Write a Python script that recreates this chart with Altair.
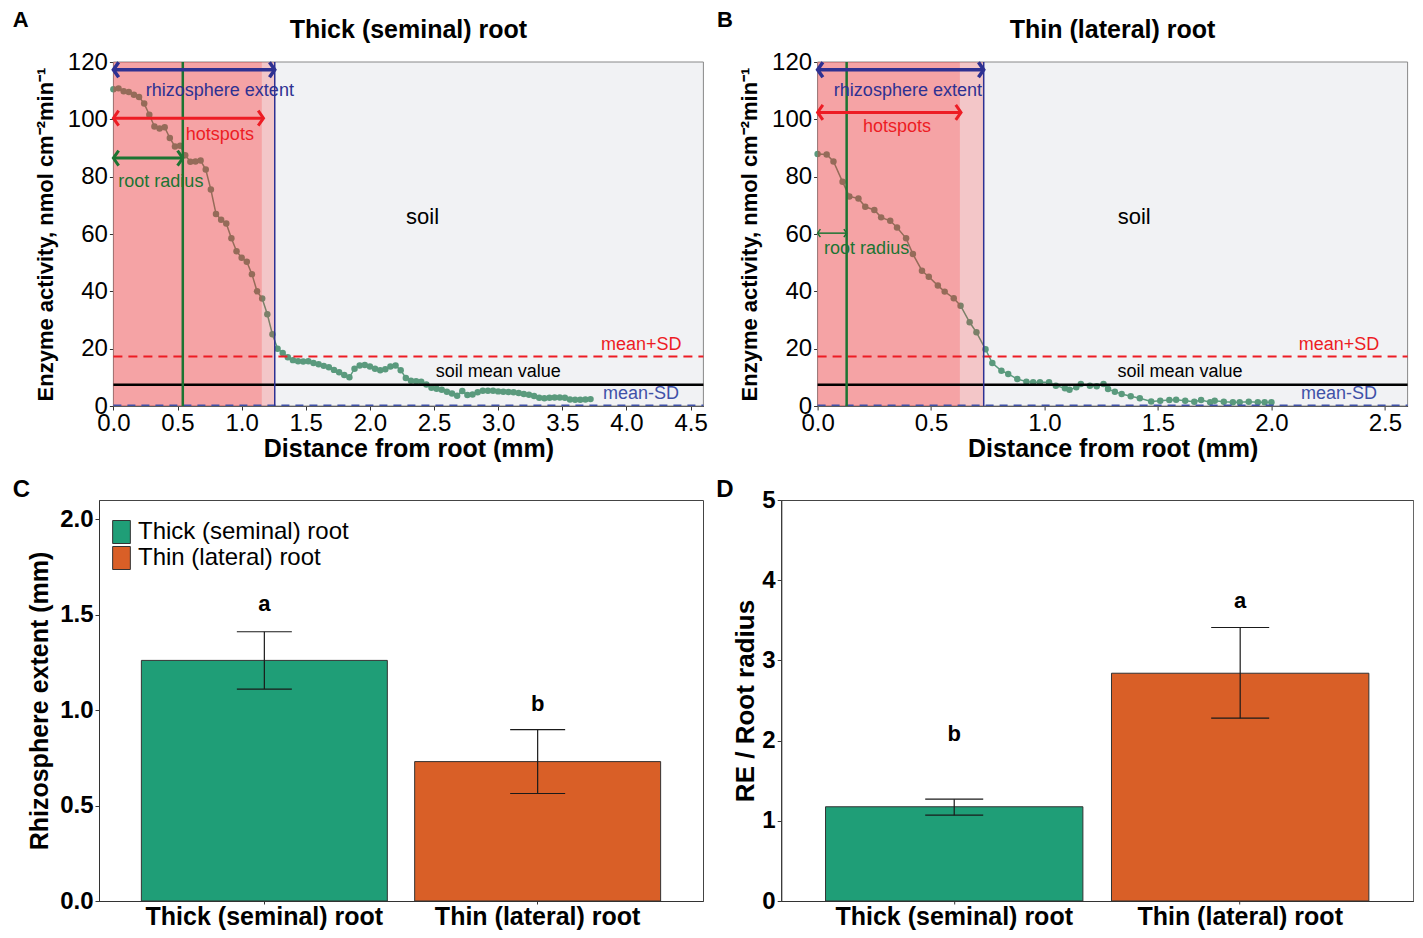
import altair as alt
import pandas as pd

FONT = "Liberation Sans, Arial, Helvetica, sans-serif"

# ---------------- data ----------------
thick_distance = [0.00, 0.04, 0.08, 0.12, 0.16, 0.20, 0.24, 0.28, 0.32, 0.36,
                  0.40, 0.44, 0.48, 0.52, 0.56, 0.60, 0.64, 0.68, 0.72, 0.76,
                  0.80, 0.84, 0.88, 0.92, 0.96, 1.00, 1.04, 1.08, 1.12, 1.16,
                  1.20, 1.24, 1.28, 1.32, 1.36, 1.40, 1.44, 1.48, 1.52, 1.56,
                  1.60, 1.64, 1.68, 1.72, 1.76, 1.80, 1.84, 1.88, 1.92, 1.96,
                  2.00, 2.04, 2.08, 2.12, 2.16, 2.20, 2.24, 2.28, 2.32, 2.36,
                  2.40, 2.44, 2.48, 2.52, 2.56, 2.60, 2.64, 2.68, 2.72, 2.76,
                  2.80, 2.84, 2.88, 2.92, 2.96, 3.00, 3.04, 3.08, 3.12, 3.16,
                  3.20, 3.24, 3.28, 3.32, 3.36, 3.40, 3.44, 3.48, 3.52, 3.56,
                  3.60, 3.64, 3.68, 3.72]
thick_activity = [110.5, 110.8, 109.8, 109.5, 108.6, 107.8, 105.5, 101.6, 97.5, 96.8,
                  97.2, 93.5, 90.5, 90.8, 87.5, 85.2, 85.3, 85.6, 82.5, 75.5,
                  67.0, 65.0, 63.7, 58.5, 54.0, 51.7, 50.3, 46.0, 40.0, 37.5,
                  32.0, 25.0, 20.0, 18.5, 17.0, 16.0, 15.6, 15.5, 15.6, 15.0,
                  14.6, 14.0, 13.5, 12.6, 11.8, 10.8, 10.0, 13.0, 14.1, 14.3,
                  13.8, 13.0, 12.5, 12.8, 13.8, 14.1, 12.5, 9.8, 8.8, 8.6,
                  8.5, 7.5, 6.4, 6.0, 5.7, 5.0, 4.4, 3.6, 5.2, 3.8,
                  4.0, 4.8, 5.3, 5.3, 5.3, 5.1, 5.0, 4.9, 4.8, 4.5,
                  4.2, 3.9, 3.5, 2.9, 2.7, 2.9, 3.0, 3.0, 2.9, 2.3,
                  2.2, 2.2, 2.3, 2.4]

thin_distance = [0.00, 0.04, 0.07, 0.11, 0.14, 0.18, 0.21, 0.25, 0.28, 0.32,
                 0.35, 0.39, 0.42, 0.46, 0.49, 0.53, 0.56, 0.60, 0.63, 0.67,
                 0.70, 0.74, 0.77, 0.81, 0.84, 0.88, 0.92, 0.95, 0.98, 1.02,
                 1.05, 1.09, 1.11, 1.14, 1.16, 1.20, 1.23, 1.26, 1.28, 1.31,
                 1.34, 1.38, 1.42, 1.47, 1.51, 1.55, 1.58, 1.62, 1.66, 1.69,
                 1.73, 1.75, 1.79, 1.83, 1.86, 1.90, 1.94, 1.97, 2.00]
thin_activity = [87.9, 87.7, 85.3, 78.2, 73.1, 72.4, 69.5, 68.4, 65.8, 64.6,
                 62.3, 58.5, 53.0, 47.2, 45.1, 42.0, 39.9, 37.6, 35.0, 29.2,
                 25.7, 19.8, 15.0, 12.3, 11.2, 9.4, 8.5, 8.3, 8.3, 8.3,
                 7.1, 6.2, 5.7, 6.5, 7.7, 7.1, 6.9, 7.7, 5.9, 5.0,
                 4.2, 3.4, 2.7, 1.6, 1.8, 2.1, 2.2, 1.8, 1.5, 2.1,
                 1.3, 1.8, 1.5, 1.3, 1.3, 1.5, 1.3, 1.3, 1.3]

soil_mean = 7.4
soil_mean_plus_sd = 17.3
soil_mean_minus_sd = 0.3

thick_root_radius = 0.541
thick_hotspot_end = 1.157
thick_hotspot_arrow = 1.17
thick_rhizosphere = 1.258
thin_root_radius = 0.128
thin_hotspot_end = 0.627
thin_hotspot_arrow = 0.632
thin_rhizosphere = 0.732

root_types = ["Thick (seminal) root", "Thin (lateral) root"]
extent_mean = [1.26, 0.73]
extent_low = [1.11, 0.563]
extent_high = [1.41, 0.897]
extent_letters = ["a", "b"]
extent_letter_pos = [1.555, 1.03]
ratio_mean = [1.175, 2.84]
ratio_low = [1.07, 2.28]
ratio_high = [1.27, 3.41]
ratio_letters = ["b", "a"]
ratio_letter_pos = [2.08, 3.74]

# annotation texts: (text, x, y)
thick_texts = {"rhizo": ("rhizosphere extent", 0.83, 110.0), "hot": ("hotspots", 0.83, 94.6),
               "radius": ("root radius", 0.37, 78.0), "soil": ("soil", 2.41, 66.0),
               "mean": ("soil mean value", 3.0, 11.75), "plus": ("mean+SD", 4.43, 21.4),
               "minus": ("mean-SD", 4.41, 4.2)}
thin_texts = {"rhizo": ("rhizosphere extent", 0.398, 110.0), "hot": ("hotspots", 0.35, 97.5),
              "radius": ("root radius", 0.216, 54.8), "soil": ("soil", 1.395, 66.0),
              "mean": ("soil mean value", 1.597, 11.75), "plus": ("mean+SD", 2.475, 21.4),
              "minus": ("mean-SD", 2.465, 4.2)}
thick_arrow_y = {"rhizo": 117.3, "hot": 100.4, "radius": 86.5}
thin_arrow_y = {"rhizo": 117.3, "hot": 102.4, "radius": 60.3}

# ---------------- styles ----------------
PT_GREEN = "#5a9a7d"
RED = "#ed1c24"
NAVY = "#2e3192"
DKGREEN = "#1c7432"
MSD_BLUE = "#3f51a8"
BAR_COLORS = ["#1f9e77", "#d95f27"]


def profile_panel(letter, title, dist, act, radius, hot_end, hot_arrow, rhizo, xmax, xticks,
                  texts, arrow_y, radius_w, radius_head, lead):
    # lead: blank pixels kept at the left of the view, so the frame starts further right
    PW, H = 590, 344
    W = PW + lead
    xs = alt.Scale(domain=[0, xmax], range=[lead, lead + PW], nice=False, zero=False)
    ys = alt.Scale(domain=[0, 120], nice=False, zero=False)
    xax = alt.Axis(title="Distance from root (mm)", values=xticks, format=".1f", grid=False,
                   labelFont=FONT, labelFontSize=24, labelColor="black", labelPadding=1,
                   labelFlush=False, labelOverlap=False,
                   titleFont=FONT, titleFontSize=25, titleFontWeight="bold", titleColor="black",
                   titlePadding=1, tickSize=4, tickColor="#333333", domainColor="#333333")
    yax = alt.Axis(title="Enzyme activity, nmol cm\u207b\u00b2min\u207b\u00b9",
                   values=[0, 20, 40, 60, 80, 100, 120], format="d", grid=False,
                   labelFont=FONT, labelFontSize=24, labelColor="black", labelPadding=2,
                   labelFlush=False, labelOverlap=False, offset=-lead,
                   titleFont=FONT, titleFontSize=22, titleFontWeight="bold", titleColor="black",
                   titlePadding=10, tickSize=4, tickColor="#333333", domainColor="#333333")

    def X(f):
        return alt.X(f, type="quantitative", scale=xs, axis=xax)

    def Y(f):
        return alt.Y(f, type="quantitative", scale=ys, axis=yax)

    frame = pd.DataFrame({"x0": [0.0], "x1": [xmax], "y0": [0], "y1": [120]})
    layers = [alt.Chart(frame).mark_rect(fill="#f1f2f4", stroke="#888888", strokeWidth=1)
              .encode(X("x0"), x2="x1", y=Y("y0"), y2="y1")]

    curve = pd.DataFrame({"d": dist, "a": act})
    layers += [
        alt.Chart(curve).mark_line(color=PT_GREEN, strokeWidth=1.5).encode(X("d"), Y("a")),
        alt.Chart(curve).mark_circle(color=PT_GREEN, size=42, opacity=1).encode(X("d"), Y("a")),
    ]
    zones = pd.DataFrame({"x0": [0.0, 0.0], "x1": [rhizo, hot_end], "y0": [0, 0], "y1": [120, 120]})
    layers.append(alt.Chart(zones).mark_rect(color="#ff1a1a", opacity=0.2)
                  .encode(X("x0"), x2="x1", y=Y("y0"), y2="y1"))

    def hrule(v, color, width, dash=None):
        kw = dict(color=color, strokeWidth=width)
        if dash:
            kw["strokeDash"] = dash
        df = pd.DataFrame({"v": [v], "x0": [0.0], "x1": [xmax]})
        return alt.Chart(df).mark_rule(**kw).encode(X("x0"), x2="x1", y=Y("v"))

    def vrule(v, color, width):
        return alt.Chart(pd.DataFrame({"v": [v]})).mark_rule(color=color, strokeWidth=width).encode(X("v"))

    layers += [
        hrule(soil_mean_minus_sd, MSD_BLUE, 1.5, [8, 6]),
        hrule(soil_mean, "black", 2.5),
        hrule(soil_mean_plus_sd, RED, 2, [9, 6]),
        vrule(radius, DKGREEN, 2.5),
        vrule(rhizo, NAVY, 1.5),
    ]

    def arrow(x1, y, color, width, head):
        df = pd.DataFrame({"x0": [0.0], "x1": [x1], "y": [y]})
        shaft = alt.Chart(df).mark_rule(color=color, strokeWidth=width).encode(X("x0"), x2="x1", y=Y("y"))
        lh = alt.Chart(df).mark_point(shape="M0.7,-1L0,0L0.7,1", filled=False, color=color,
                                      strokeWidth=width, size=head * head, opacity=1).encode(X("x0"), Y("y"))
        rh = alt.Chart(df).mark_point(shape="M-0.7,-1L0,0L-0.7,1", filled=False, color=color,
                                      strokeWidth=width, size=head * head, opacity=1).encode(X("x1"), Y("y"))
        return [shaft, lh, rh]

    layers += arrow(rhizo, arrow_y["rhizo"], NAVY, 3.5, 15)
    layers += arrow(hot_arrow, arrow_y["hot"], RED, 3, 15)
    layers += arrow(radius, arrow_y["radius"], DKGREEN, radius_w, radius_head)

    def txt(key, color, size, align="center"):
        t, x, y = texts[key]
        return (alt.Chart(pd.DataFrame({"t": [t], "x": [x], "y": [y]}))
                .mark_text(font=FONT, fontSize=size, color=color, align=align, baseline="middle")
                .encode(X("x"), Y("y"), text="t:N"))

    layers += [
        txt("rhizo", NAVY, 18), txt("hot", RED, 18), txt("radius", DKGREEN, 18),
        txt("soil", "black", 22), txt("mean", "black", 18),
        txt("plus", RED, 18, "right"), txt("minus", MSD_BLUE, 18, "right"),
    ]
    # panel letter and panel title, placed in pixels above the plot frame
    layers.append(alt.Chart(pd.DataFrame({"t": [letter]}))
                  .mark_text(font=FONT, fontSize=22, fontWeight="bold", color="black",
                             align="left", baseline="alphabetic")
                  .encode(text="t:N", x=alt.value(lead - 100.7), y=alt.value(-34.7)))
    layers.append(alt.Chart(pd.DataFrame({"t": [title]}))
                  .mark_text(font=FONT, fontSize=25, fontWeight="bold", color="black",
                             align="center", baseline="alphabetic")
                  .encode(text="t:N", x=alt.value(lead + PW / 2), y=alt.value(-23.7)))

    return alt.layer(*layers).properties(
        width=W, height=H,
        view=alt.ViewBackground(fill="transparent", stroke="transparent"),
    )


def bar_panel(letter, letter_x, means, lows, highs, letters, letter_pos, ymax, yticks, yfmt,
              ytitle, ytitle_size, ytitle_pad, W, legend, cap):
    H = 401
    df = pd.DataFrame({"type": root_types, "m": means, "lo": lows, "hi": highs,
                       "lab": letters, "ly": letter_pos})
    xs = alt.Scale(domain=root_types, paddingInner=0.1, paddingOuter=0.155)
    ys = alt.Scale(domain=[0, ymax], nice=False, zero=True)
    xax = alt.Axis(title=None, labelAngle=0, labelFont=FONT, labelFontSize=25, labelFontWeight="bold",
                   labelColor="black", labelPadding=0, tickSize=3, tickColor="#333333",
                   domainColor="#333333", grid=False, labelLimit=400)
    yax = alt.Axis(title=ytitle, values=yticks, format=yfmt, grid=False,
                   labelFont=FONT, labelFontSize=24, labelFontWeight="bold", labelColor="black",
                   labelPadding=2, labelFlush=False, labelOverlap=False,
                   titleFont=FONT, titleFontSize=ytitle_size, titleFontWeight="bold", titleColor="black",
                   titlePadding=ytitle_pad, tickSize=4, tickColor="#333333", domainColor="#333333")
    X = alt.X("type:N", scale=xs, axis=xax)

    def Y(f):
        return alt.Y(f, type="quantitative", scale=ys, axis=yax)

    base = alt.Chart(df)
    bars = base.mark_bar(stroke="#333333", strokeWidth=1, opacity=1).encode(
        X, Y("m"),
        color=alt.Color("type:N", scale=alt.Scale(domain=root_types, range=BAR_COLORS), legend=legend))
    err = base.mark_rule(color="#1a1a1a", strokeWidth=1.2).encode(X, Y("lo"), y2="hi")
    cap_lo = base.mark_tick(color="#1a1a1a", thickness=1.2, size=cap, opacity=1).encode(X, Y("lo"))
    cap_hi = base.mark_tick(color="#1a1a1a", thickness=1.2, size=cap, opacity=1).encode(X, Y("hi"))
    labs = base.mark_text(font=FONT, fontSize=22, fontWeight="bold", color="black",
                          baseline="middle").encode(X, Y("ly"), text="lab:N")
    let = (alt.Chart(pd.DataFrame({"t": [letter]}))
           .mark_text(font=FONT, fontSize=24, fontWeight="bold", color="black",
                      align="left", baseline="alphabetic")
           .encode(text="t:N", x=alt.value(letter_x), y=alt.value(-3.4)))
    return alt.layer(bars, err, cap_lo, cap_hi, labs, let).properties(
        width=W, height=H,
        view=alt.ViewBackground(fill="white", stroke="#444444", strokeWidth=1),
    )


panel_a = profile_panel("A", "Thick (seminal) root", thick_distance, thick_activity,
                        thick_root_radius, thick_hotspot_end, thick_hotspot_arrow, thick_rhizosphere,
                        4.6, [0, 0.5, 1, 1.5, 2, 2.5, 3, 3.5, 4, 4.5],
                        thick_texts, thick_arrow_y, 3, 15, 14.4)
panel_b = profile_panel("B", "Thin (lateral) root", thin_distance, thin_activity,
                        thin_root_radius, thin_hotspot_end, thin_hotspot_arrow, thin_rhizosphere,
                        2.6, [0, 0.5, 1, 1.5, 2, 2.5],
                        thin_texts, thin_arrow_y, 1.5, 8, 0)

legend_c = alt.Legend(title=None, orient="none", legendX=10.5, legendY=20,
                      symbolType="M-0.77,-1L0.77,-1L0.77,1L-0.77,1Z", symbolSize=529,
                      symbolStrokeColor="#333333", symbolStrokeWidth=1, symbolOpacity=1,
                      labelFont=FONT, labelFontSize=24, labelColor="black", labelOffset=4.5,
                      rowPadding=-5, padding=0, labelLimit=400)

panel_c = bar_panel("C", -86.3, extent_mean, extent_low, extent_high, extent_letters, extent_letter_pos,
                    2.1, [0, 0.5, 1.0, 1.5, 2.0], ".1f", "Rhizosphere extent (mm)", 25, 7, 604,
                    legend_c, 55)
panel_d = bar_panel("D", -65, ratio_mean, ratio_low, ratio_high, ratio_letters, ratio_letter_pos,
                    5, [0, 1, 2, 3, 4, 5], "d", "RE / Root radius", 26, 3, 632, None, 58)

top_row = alt.hconcat(panel_a, panel_b, spacing=7.6)
bottom_row = alt.hconcat(panel_c, panel_d, spacing=11.2).resolve_scale(color="independent")

chart = alt.vconcat(top_row, bottom_row, spacing=15).properties(
    padding={"left": 4, "top": 0, "right": 0, "bottom": 0},
    background="white",
).configure(font=FONT)

chart.save("out.html", embed_options={"renderer": "svg", "actions": False})
